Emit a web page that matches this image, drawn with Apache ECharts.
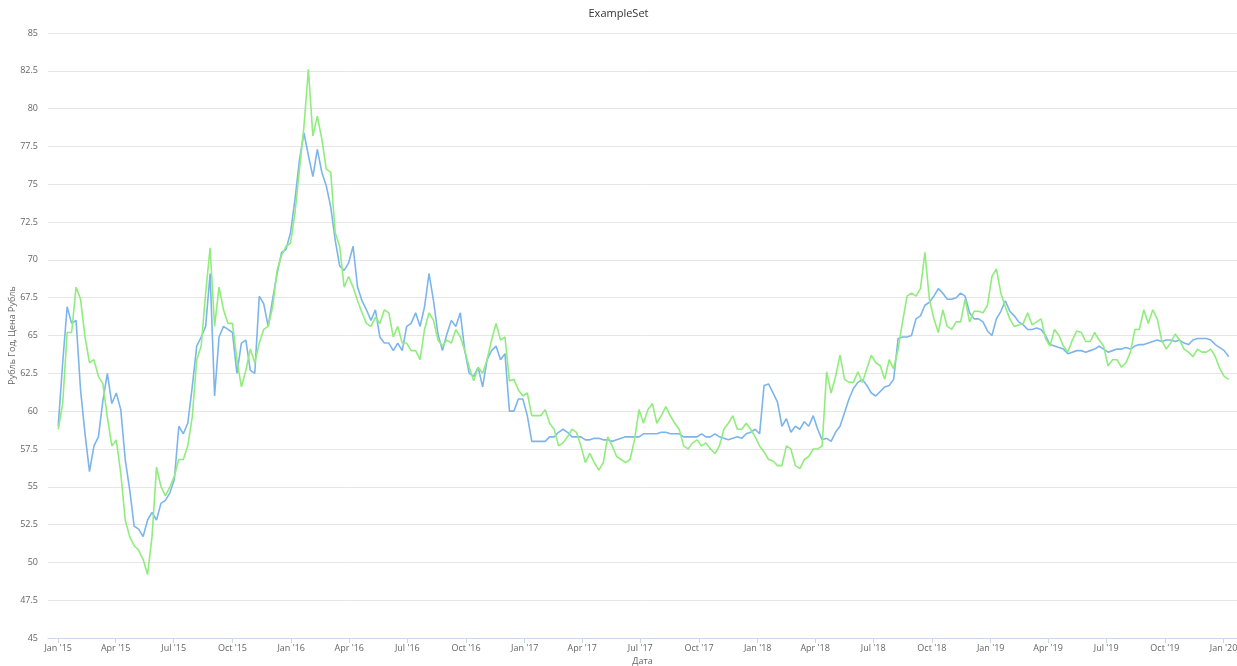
<!DOCTYPE html>
<html>
<head>
<meta charset="utf-8">
<title>ExampleSet</title>
<script src="https://cdn.jsdelivr.net/npm/echarts@6/dist/echarts.min.js"></script>
<style>
    html, body { margin: 0; padding: 0; background: #fff; }
    #chart { width: 1237px; height: 666px; }
</style>
</head>
<body>
<div id="chart"></div>
<script>
// weekly samples, starting at startDate
const startDate = '2015-01-01';
const stepDays = 7;

const blueValues = [
    59.0, 63.2, 66.9, 65.8, 66.0, 61.4, 58.5, 56.0, 57.7, 58.3,
    60.7, 62.5, 60.5, 61.2, 60.1, 56.8, 54.8, 52.4, 52.2, 51.7,
    52.8, 53.3, 52.8, 53.9, 54.1, 54.6, 55.5, 59.0, 58.5, 59.2,
    61.6, 64.3, 64.9, 65.6, 69.1, 61.0, 64.9, 65.6, 65.4, 65.2,
    62.5, 64.5, 64.7, 62.7, 62.5, 67.6, 67.1, 65.6, 67.4, 69.1,
    70.5, 70.7, 71.8, 74.0, 76.6, 78.4, 76.9, 75.5, 77.3, 75.8,
    74.9, 73.5, 71.3, 69.6, 69.3, 69.8, 70.9, 68.2, 67.3, 66.7,
    66.0, 66.7, 64.9, 64.5, 64.5, 64.0, 64.5, 64.0, 65.6, 65.8,
    66.5, 65.6, 66.9, 69.1, 67.3, 65.1, 64.0, 65.1, 66.0, 65.6,
    66.5, 64.0, 62.5, 62.3, 62.9, 61.6, 63.4, 64.0, 64.3, 63.4,
    63.8, 60.0, 60.0, 60.8, 60.8, 59.7, 58.0, 58.0, 58.0, 58.0,
    58.3, 58.3, 58.6, 58.8, 58.6, 58.3, 58.3, 58.3, 58.1, 58.1,
    58.2, 58.2, 58.1, 58.1, 58.0, 58.1, 58.2, 58.3, 58.3, 58.3,
    58.3, 58.5, 58.5, 58.5, 58.5, 58.6, 58.6, 58.5, 58.5, 58.5,
    58.3, 58.3, 58.3, 58.3, 58.5, 58.3, 58.3, 58.5, 58.3, 58.2,
    58.1, 58.2, 58.3, 58.2, 58.5, 58.6, 58.8, 58.5, 61.7, 61.8,
    61.2, 60.6, 59.0, 59.5, 58.6, 59.0, 58.8, 59.3, 59.0, 59.7,
    58.8, 58.1, 58.2, 58.0, 58.6, 59.0, 59.9, 60.8, 61.5, 61.9,
    62.1, 61.7, 61.2, 61.0, 61.3, 61.6, 61.7, 62.1, 64.8, 64.9,
    64.9, 65.0, 66.1, 66.3, 67.0, 67.2, 67.6, 68.1, 67.8, 67.4,
    67.4, 67.5, 67.8, 67.6, 66.5, 66.1, 66.1, 65.9, 65.3, 65.0,
    66.1, 66.6, 67.3, 66.6, 66.3, 65.9, 65.7, 65.4, 65.4, 65.5,
    65.4, 65.0, 64.4, 64.3, 64.2, 64.1, 63.8, 63.9, 64.0, 64.0,
    63.9, 64.0, 64.1, 64.3, 64.1, 63.9, 64.0, 64.1, 64.1, 64.2,
    64.1, 64.3, 64.4, 64.4, 64.5, 64.6, 64.7, 64.6, 64.7, 64.7,
    64.6, 64.7, 64.5, 64.4, 64.7, 64.8, 64.8, 64.8, 64.7, 64.4,
    64.2, 64.0, 63.6
];

const greenValues = [
    58.8, 60.5, 65.2, 65.2, 68.2, 67.4, 64.9, 63.2, 63.4, 62.3,
    61.8, 59.6, 57.7, 58.1, 55.9, 52.8, 51.7, 51.1, 50.8, 50.2,
    49.2, 51.7, 56.3, 55.0, 54.4, 55.0, 55.7, 56.8, 56.8, 57.7,
    59.6, 63.4, 64.3, 67.8, 70.8, 65.6, 68.2, 66.7, 65.8, 65.8,
    63.4, 61.6, 62.7, 64.1, 63.2, 64.5, 65.4, 65.6, 66.9, 69.3,
    70.3, 70.9, 71.1, 73.1, 76.0, 78.8, 82.6, 78.2, 79.5, 78.0,
    76.0, 75.8, 71.8, 70.9, 68.2, 68.9, 68.2, 67.3, 66.5, 65.8,
    65.6, 66.2, 65.8, 66.7, 66.5, 64.9, 65.6, 64.5, 64.5, 64.0,
    64.0, 63.4, 65.4, 66.5, 66.0, 64.7, 64.3, 64.7, 64.5, 65.4,
    64.9, 64.0, 62.9, 62.0, 62.9, 62.5, 63.4, 64.7, 65.8, 64.7,
    64.9, 62.0, 62.1, 61.4, 61.0, 61.2, 59.7, 59.7, 59.7, 60.1,
    59.2, 58.8, 57.7, 57.9, 58.3, 58.8, 58.6, 57.7, 56.6, 57.2,
    56.6, 56.1, 56.6, 58.3, 57.7, 57.0, 56.8, 56.6, 56.8, 58.1,
    60.1, 59.2, 60.1, 60.5, 59.2, 59.7, 60.3, 59.7, 59.2, 58.8,
    57.7, 57.5, 57.9, 58.1, 57.7, 57.9, 57.5, 57.2, 57.7, 58.8,
    59.2, 59.7, 58.8, 58.8, 59.2, 58.8, 58.3, 57.7, 57.3, 56.8,
    56.7, 56.4, 56.4, 57.7, 57.5, 56.4, 56.2, 56.8, 57.0, 57.5,
    57.5, 57.7, 62.6, 61.2, 62.3, 63.7, 62.1, 61.9, 61.9, 62.6,
    61.9, 62.8, 63.7, 63.2, 63.0, 62.1, 63.4, 62.8, 64.1, 65.9,
    67.6, 67.8, 67.6, 68.1, 70.5, 67.4, 66.1, 65.2, 66.7, 65.6,
    65.4, 65.9, 65.9, 67.4, 65.9, 66.6, 66.6, 66.5, 67.0, 68.9,
    69.4, 67.8, 66.9, 66.1, 65.6, 65.7, 65.8, 66.5, 65.7, 65.9,
    66.1, 64.8, 64.3, 65.4, 65.0, 64.3, 63.9, 64.7, 65.3, 65.2,
    64.6, 64.6, 65.2, 64.7, 64.3, 63.0, 63.4, 63.4, 62.9, 63.2,
    63.9, 65.4, 65.4, 66.7, 65.8, 66.7, 66.1, 64.7, 64.1, 64.5,
    65.1, 64.7, 64.1, 63.9, 63.6, 64.1, 63.9, 63.9, 64.1, 63.6,
    62.8, 62.3, 62.1
];

const quarterTicks = [
    '2015-01-01', '2015-04-01', '2015-07-01', '2015-10-01',
    '2016-01-01', '2016-04-01', '2016-07-01', '2016-10-01',
    '2017-01-01', '2017-04-01', '2017-07-01', '2017-10-01',
    '2018-01-01', '2018-04-01', '2018-07-01', '2018-10-01',
    '2019-01-01', '2019-04-01', '2019-07-01', '2019-10-01',
    '2020-01-01'
];
const monthNames = ['Jan', 'Feb', 'Mar', 'Apr', 'May', 'Jun', 'Jul', 'Aug', 'Sep', 'Oct', 'Nov', 'Dec'];

const DAY = 86400000;
const fontFamily = '"Open Sans", "DejaVu Sans", sans-serif';

function toSeries(values) {
    let t0 = Date.parse(startDate + 'T00:00:00Z');
    return values.map((v, i) => [t0 + i * stepDays * DAY, v]);
}

function tickLabel(value) {
    let d = new Date(value);
    return monthNames[d.getUTCMonth()] + " '" + String(d.getUTCFullYear()).slice(2);
}

let tickValues = quarterTicks.map(s => Date.parse(s + 'T00:00:00Z'));

let options = {
    animation: false,
    backgroundColor: '#ffffff',
    title: {
        text: 'ExampleSet',
        left: 'center',
        top: 3,
        textStyle: {
            color: '#333333',
            fontSize: 11,
            fontWeight: 'normal',
            fontFamily: fontFamily
        }
    },
    grid: {
        left: 48,
        right: 0,
        top: 33,
        bottom: 28,
        containLabel: false,
        outerBoundsMode: 'none'
    },
    xAxis: {
        type: 'value',
        min: Date.parse('2014-12-16T00:00:00Z'),
        max: Date.parse('2020-01-22T00:00:00Z'),
        name: 'Дата',
        nameLocation: 'middle',
        nameGap: 19,
        nameMoveOverlap: false,
        nameTextStyle: {
            color: '#666666',
            fontSize: 9,
            fontFamily: fontFamily
        },
        axisLine: {
            lineStyle: { color: '#ccd6eb', width: 1 }
        },
        axisTick: {
            show: true,
            length: 5,
            customValues: tickValues,
            lineStyle: { color: '#ccd6eb' }
        },
        axisLabel: {
            customValues: tickValues,
            formatter: tickLabel,
            margin: 6,
            color: '#666666',
            fontSize: 9,
            fontFamily: fontFamily
        },
        splitLine: { show: false }
    },
    yAxis: {
        type: 'value',
        min: 45,
        max: 85,
        interval: 2.5,
        name: 'Рубль Год, Цена Рубль',
        nameLocation: 'middle',
        nameGap: 31,
        nameMoveOverlap: false,
        nameTextStyle: {
            color: '#666666',
            fontSize: 9,
            fontFamily: fontFamily
        },
        axisLine: { show: false },
        axisTick: { show: false },
        axisLabel: {
            margin: 10,
            color: '#666666',
            fontSize: 9,
            fontFamily: fontFamily
        },
        splitLine: {
            lineStyle: { color: '#e6e6e6', width: 1 }
        }
    },
    series: [
        {
            name: 'Рубль Год',
            type: 'line',
            showSymbol: false,
            data: toSeries(blueValues),
            lineStyle: { color: '#7cb5ec', width: 1.6 },
            itemStyle: { color: '#7cb5ec' }
        },
        {
            name: 'Цена Рубль',
            type: 'line',
            showSymbol: false,
            data: toSeries(greenValues),
            lineStyle: { color: '#90ed7d', width: 1.6 },
            itemStyle: { color: '#90ed7d' }
        }
    ]
};

let chart = echarts.init(document.getElementById('chart'));
chart.setOption(options);
</script>
</body>
</html>
